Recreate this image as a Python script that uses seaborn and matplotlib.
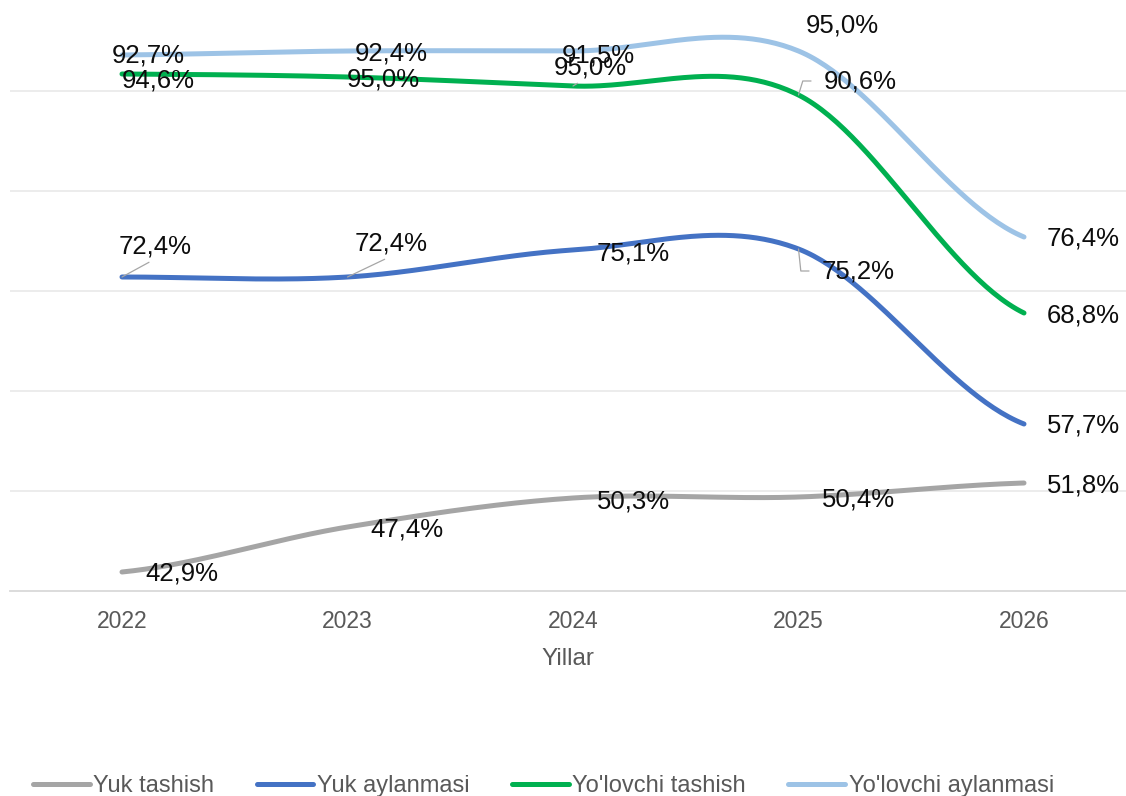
import matplotlib
matplotlib.use("Agg")
import matplotlib.pyplot as plt
import numpy as np
import pandas as pd
import seaborn as sns

YEARS = ["2022", "2023", "2024", "2025", "2026"]
SERIES = ["Yuk tashish", "Yuk aylanmasi", "Yo'lovchi tashish", "Yo'lovchi aylanmasi"]

yuk_tashish = [42.9, 47.4, 50.3, 50.4, 51.8]
yuk_aylanmasi = [72.4, 72.4, 75.1, 75.2, 57.7]
yolovchi_tashish = [92.7, 92.4, 91.5, 90.6, 68.8]
yolovchi_aylanmasi = [94.6, 95.0, 95.0, 95.0, 76.4]

# data label texts as printed on the chart
lbl_yuk_tashish = ["42,9%", "47,4%", "50,3%", "50,4%", "51,8%"]
lbl_yuk_aylanmasi = ["72,4%", "72,4%", "75,1%", "75,2%", "57,7%"]
lbl_yolovchi_tashish = ["94,6%", "95,0%", "95,0%", "90,6%", "68,8%"]
lbl_yolovchi_aylanmasi = ["92,7%", "92,4%", "91,5%", "95,0%", "76,4%"]

COLORS = ["#A5A5A5", "#4472C4", "#00B050", "#9DC3E6"]

# label offsets in pixels (dx, dy up) from each point
OFFSETS = [
    [(60, -1), (59, -1), (60, -2), (60, -1), (59, -2)],
    [(33, 31), (44, 34), (60, -2), (60, -21), (59, -1)],
    [(36, -6), (36, -2), (17, 19), (62, 15), (59, -1)],
    [(26, 1), (44, -2), (25, -4), (44, 26), (59, -1)],
]
# leader lines: (series, point) -> (relpos, connectionstyle, shrinkA)
LEADERS = {
    (1, 0): ((0.5, 0.0), "arc3", 0),
    (1, 1): ((0.5, 0.0), "arc3", 0),
    (2, 2): ((0.54, 0.25), "arc3", 0),
    (2, 3): ((0.0, 0.5), "angle,angleA=180,angleB=73,rad=0", 7),
    (1, 3): ((0.0, 0.5), "angle,angleA=180,angleB=-84,rad=0", 7),
}


def smooth(vals, n=60):
    """Excel-like smoothed line (Catmull-Rom through the points)."""
    p = np.asarray(vals, dtype=float)
    m = np.empty_like(p)
    m[1:-1] = (p[2:] - p[:-2]) / 2
    m[0] = (p[1] - p[0]) / 2
    m[-1] = (p[-1] - p[-2]) / 2
    xs, ys = [], []
    t = np.linspace(0, 1, n)
    for i in range(len(p) - 1):
        h00 = 2 * t**3 - 3 * t**2 + 1
        h10 = t**3 - 2 * t**2 + t
        h01 = -2 * t**3 + 3 * t**2
        h11 = t**3 - t**2
        xs.extend(i + t)
        ys.extend(h00 * p[i] + h10 * m[i] + h01 * p[i + 1] + h11 * m[i + 1])
    return np.array(xs), np.array(ys)


sns.set_theme(style="white")
plt.rcParams["font.family"] = ["Liberation Sans", "DejaVu Sans"]

W, H = 1126, 796
fig = plt.figure(figsize=(W / 100, H / 100), dpi=100)
ax = fig.add_axes([10 / W, (H - 591) / H, 1116 / W, 591 / H])

all_vals = [yuk_tashish, yuk_aylanmasi, yolovchi_tashish, yolovchi_aylanmasi]
all_lbls = [lbl_yuk_tashish, lbl_yuk_aylanmasi, lbl_yolovchi_tashish, lbl_yolovchi_aylanmasi]

frames = []
for name, vals in zip(SERIES, all_vals):
    xs, ys = smooth(vals)
    frames.append(pd.DataFrame({"x": xs, "y": ys, "series": name}))
df = pd.concat(frames, ignore_index=True)

sns.lineplot(data=df, x="x", y="y", hue="series", hue_order=SERIES,
             palette=COLORS, linewidth=3.6, sort=False, legend=False,
             ax=ax, zorder=3)
for line in ax.get_lines():
    line.set_solid_capstyle("round")

for s, (vals, lbls) in enumerate(zip(all_vals, all_lbls)):
    for i, (v, txt) in enumerate(zip(vals, lbls)):
        dx, dy = OFFSETS[s][i]
        kw = {}
        if (s, i) in LEADERS:
            relpos, cs, shA = LEADERS[(s, i)]
            kw["arrowprops"] = dict(arrowstyle="-", color="#A6A6A6", lw=0.9,
                                    shrinkA=shA, shrinkB=0, relpos=relpos,
                                    connectionstyle=cs)
        ax.annotate(txt, xy=(i, v), xytext=(dx, dy - 1), textcoords="offset pixels",
                    ha="center", va="center", fontsize=18.5, color="#0D0D0D",
                    zorder=5, **kw)

ax.set_xlim(-112 / 225.5, 4 + 102 / 225.5)
ax.set_ylim(41, 41 + 59.1)
ax.set_yticks([51, 61, 71, 81, 91])
ax.set_yticklabels([])
ax.grid(axis="y", color="#EBEBEB", linewidth=1.3)
ax.grid(axis="x", visible=False)
for side in ["top", "right", "left"]:
    ax.spines[side].set_visible(False)
ax.spines["bottom"].set_color("#D9D9D9")
ax.spines["bottom"].set_linewidth(1.3)

ax.set_xticks(range(len(YEARS)))
ax.set_xticklabels(YEARS)
ax.tick_params(axis="x", length=0, pad=13.5, labelsize=16.5, labelcolor="#595959")
ax.tick_params(axis="y", length=0)
ax.set_xlabel("Yillar", fontsize=17.5, color="#595959", labelpad=11)
ax.set_ylabel("")

handles = ax.get_lines()[:4]
fig.legend(handles, SERIES, loc="center left", bbox_to_anchor=(33 / W, 10 / H),
           ncol=4, frameon=False, fontsize=17, handlelength=2.4,
           handletextpad=0.15, columnspacing=1.8, borderpad=0, borderaxespad=0,
           labelcolor="#595959")

fig.savefig("out.png", dpi=100)
